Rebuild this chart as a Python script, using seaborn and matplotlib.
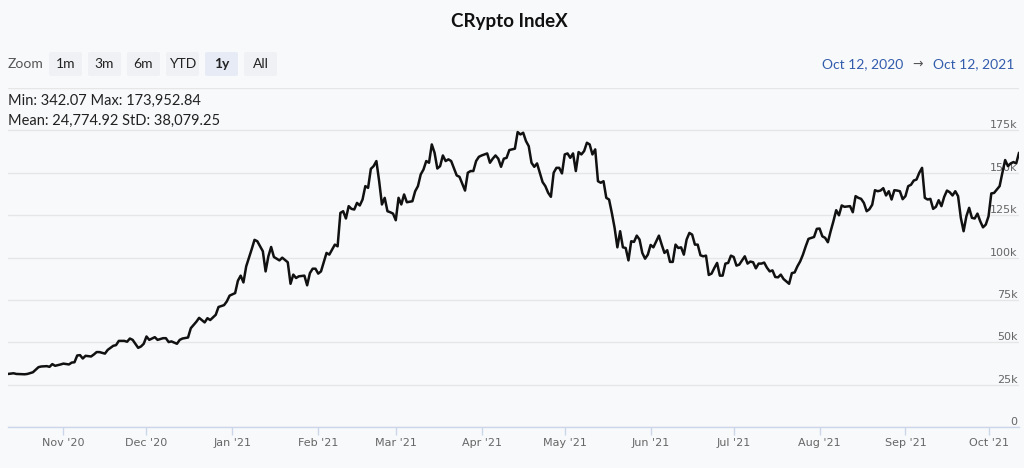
import matplotlib
matplotlib.use("Agg")
import matplotlib.pyplot as plt
import matplotlib.dates as mdates
from matplotlib.patches import FancyBboxPatch
from matplotlib.ticker import FuncFormatter
import numpy as np
import pandas as pd
import seaborn as sns

# ---------------- data ----------------
start_date = "2020-10-12"
end_date = "2021-10-12"
# days since start_date
days = [
    0, 2, 3, 6, 7, 9, 11, 12, 14, 15, 16, 17, 19, 20, 22, 23, 24, 25, 26, 27,
    28, 30, 31, 32, 33, 35, 36, 38, 39, 40, 42, 43, 44, 45, 47, 48, 49, 50, 51, 53,
    54, 56, 57, 58, 59, 61, 62, 63, 65, 66, 68, 69, 71, 72, 73, 75, 76, 78, 79, 80,
    82, 83, 84, 85, 86, 88, 89, 90, 92, 93, 94, 95, 96, 98, 99, 101, 102, 103, 104, 105,
    107, 108, 109, 110, 111, 112, 113, 115, 116, 118, 119, 120, 121, 122, 123, 124, 125, 126, 127, 128,
    129, 130, 131, 132, 133, 134, 135, 136, 137, 138, 139, 140, 141, 142, 143, 144, 146, 147, 148, 149,
    150, 151, 152, 153, 154, 155, 156, 157, 158, 159, 160, 162, 163, 165, 166, 167, 168, 169, 170, 171,
    173, 174, 175, 176, 177, 178, 179, 180, 181, 182, 183, 184, 185, 186, 187, 188, 189, 190, 191, 192,
    193, 194, 195, 196, 197, 198, 199, 200, 201, 202, 203, 204, 205, 206, 207, 208, 209, 210, 211, 212,
    213, 214, 215, 216, 217, 218, 219, 220, 221, 222, 223, 224, 225, 226, 227, 228, 229, 230, 231, 232,
    233, 235, 236, 237, 238, 239, 240, 241, 242, 243, 244, 245, 246, 247, 248, 249, 250, 251, 252, 253,
    254, 255, 256, 257, 258, 259, 260, 261, 262, 263, 264, 266, 267, 268, 269, 270, 271, 272, 273, 274,
    275, 276, 277, 278, 279, 280, 282, 283, 284, 285, 286, 287, 288, 289, 291, 292, 293, 294, 295, 296,
    297, 298, 299, 300, 301, 302, 304, 305, 306, 307, 308, 309, 310, 311, 312, 313, 314, 315, 316, 317,
    318, 319, 320, 321, 322, 323, 324, 325, 326, 327, 328, 329, 330, 331, 332, 333, 334, 335, 336, 337,
    338, 339, 340, 341, 342, 343, 344, 345, 346, 347, 348, 349, 350, 351, 352, 353, 354, 355, 356, 357,
    358, 359, 360, 361, 362, 363, 364, 365,
]
# index value in thousands
value_k = [
    31.3, 31.7, 31.3, 31.1, 31.3, 32.3, 35.3, 35.7, 35.9, 35.5, 37.1, 36.1, 36.9, 37.4, 36.9, 38.0, 38.2, 42.2, 42.4, 40.4,
    42.0, 41.6, 42.8, 44.2, 44.2, 43.3, 45.5, 47.9, 48.3, 50.8, 50.8, 50.3, 52.2, 51.4, 46.7, 47.5, 49.1, 53.4, 51.4, 53.0,
    51.4, 52.4, 52.4, 50.1, 50.5, 49.1, 51.4, 52.2, 52.8, 58.3, 62.1, 64.4, 61.7, 64.2, 63.1, 66.2, 70.8, 71.9, 74.1, 77.5,
    79.0, 86.3, 89.3, 85.3, 94.8, 105.0, 110.4, 109.6, 103.7, 91.8, 100.7, 106.2, 100.3, 98.3, 99.9, 97.2, 84.5, 89.9, 87.9, 88.9,
    89.3, 83.6, 90.8, 93.4, 93.4, 90.5, 91.8, 102.7, 101.7, 107.6, 106.6, 126.3, 127.3, 123.0, 130.3, 128.7, 128.3, 132.2, 130.7, 134.2,
    142.1, 141.1, 152.3, 153.9, 156.9, 145.0, 131.3, 135.2, 127.3, 126.7, 125.9, 122.0, 135.2, 131.3, 137.2, 132.6, 133.2, 139.1, 142.1, 149.0,
    151.9, 156.9, 155.9, 166.7, 161.8, 152.5, 153.9, 160.2, 156.9, 157.9, 156.9, 148.4, 147.6, 139.5, 150.0, 151.0, 151.0, 156.9, 159.4, 160.2,
    161.4, 155.9, 158.3, 160.2, 158.3, 153.5, 158.3, 158.8, 163.4, 163.8, 164.2, 174.0, 172.6, 173.6, 168.7, 165.7, 155.9, 153.5, 155.5, 150.0,
    144.5, 142.1, 138.2, 135.8, 150.0, 152.9, 152.9, 149.6, 160.8, 161.4, 158.8, 161.4, 151.0, 162.2, 160.8, 162.8, 167.7, 166.7, 160.8, 163.8,
    145.0, 144.1, 145.0, 135.2, 134.2, 126.3, 117.5, 106.0, 115.5, 106.0, 105.6, 98.3, 109.6, 109.2, 112.9, 110.6, 102.7, 99.3, 101.7, 107.4,
    106.0, 112.9, 107.6, 102.7, 104.3, 97.4, 97.4, 107.6, 105.6, 106.0, 101.7, 110.6, 114.5, 113.5, 107.6, 107.6, 101.3, 100.7, 101.1, 89.7,
    90.5, 93.8, 96.8, 89.3, 89.3, 96.4, 96.8, 101.1, 100.3, 95.2, 95.8, 100.7, 96.4, 97.6, 97.2, 93.6, 96.4, 96.4, 97.0, 94.0,
    91.8, 92.4, 88.5, 88.3, 89.9, 87.3, 84.5, 90.8, 91.2, 94.8, 97.7, 101.7, 106.6, 111.0, 112.1, 116.9, 117.1, 112.5, 111.6, 109.0,
    115.5, 121.4, 127.9, 124.9, 130.7, 129.9, 130.3, 126.7, 136.2, 135.2, 134.6, 132.2, 127.3, 128.5, 131.1, 139.7, 139.1, 139.5, 140.9, 136.6,
    139.1, 134.2, 139.7, 139.5, 139.1, 134.4, 136.2, 142.1, 142.9, 145.4, 146.0, 150.0, 152.9, 135.2, 134.2, 134.6, 128.7, 129.9, 133.8, 130.3,
    135.8, 139.5, 138.5, 136.6, 139.1, 136.2, 123.4, 115.5, 124.3, 129.3, 123.4, 123.0, 125.9, 121.4, 117.8, 119.4, 124.3, 137.8, 138.1, 140.1,
    142.1, 150.0, 157.5, 153.9, 155.5, 156.3, 155.5, 161.8,
]
assert len(days) == len(value_k)

title = "CRypto IndeX"
zoom_buttons = ["1m", "3m", "6m", "YTD", "1y", "All"]
selected_button = "1y"
stats_line1 = "Min: 342.07 Max: 173,952.84"
stats_line2 = "Mean: 24,774.92 StD: 38,079.25"
range_from = "Oct 12, 2020"
range_to = "Oct 12, 2021"
y_ticks = [0, 25000, 50000, 75000, 100000, 125000, 150000, 175000, 200000]

# ---------------- styling ----------------
BG = "#f8f9fb"
sns.set_theme(style="white", rc={
    "figure.facecolor": BG,
    "axes.facecolor": BG,
    "savefig.facecolor": BG,
})
plt.rcParams["font.family"] = ["DejaVu Sans"]
UI_FONT = ["Lato", "DejaVu Sans"]

df = pd.DataFrame({
    "date": pd.to_datetime(start_date) + pd.to_timedelta(days, unit="D"),
    "value": np.array(value_k) * 1000.0,
})

W, H = 1024, 468
fig = plt.figure(figsize=(W / 100, H / 100), dpi=100)

def fx(px):
    return px / W

def fy(py):
    return 1 - py / H

ax = fig.add_axes([fx(8), fy(427), fx(1019) - fx(8), fy(88) - fy(427)])
sns.lineplot(data=df, x="date", y="value", ax=ax, color="#111111", linewidth=1.8, zorder=3)

ax.set_xlim(pd.to_datetime(start_date), pd.to_datetime(end_date))
ax.set_ylim(0, 200000)
ax.set_xlabel("")
ax.set_ylabel("")

# y axis: gridlines + labels inside on the right, above the lines
ax.set_yticks(y_ticks)
ax.yaxis.set_major_formatter(FuncFormatter(
    lambda v, p: "" if v >= 200000 else ("0" if v == 0 else f"{int(v/1000)}k")))
ax.yaxis.tick_right()
ax.tick_params(axis="y", length=0, pad=-1, labelsize=8, labelcolor="#666666")
for lbl in ax.get_yticklabels():
    lbl.set_horizontalalignment("right")
    lbl.set_verticalalignment("bottom")
ax.grid(axis="y", color="#e6e6e6", linewidth=1)
ax.grid(axis="x", visible=False)

# x axis: month ticks
ax.xaxis.set_major_locator(mdates.MonthLocator(bymonthday=1))
ax.xaxis.set_major_formatter(mdates.DateFormatter("%b '%y"))
ax.tick_params(axis="x", bottom=True, length=6, width=1, color="#ccd6eb",
               pad=2, labelsize=8, labelcolor="#666666")

for s in ["top", "left", "right"]:
    ax.spines[s].set_visible(False)
ax.spines["bottom"].set_color("#ccd6eb")
ax.spines["bottom"].set_linewidth(1)

# ---------------- header ----------------
fig.text(fx(509), fy(22), title, ha="center", va="center", fontsize=13.5,
         fontweight="bold", color="#111111", family=UI_FONT)

fig.text(fx(8), fy(64), "Zoom", ha="left", va="center", fontsize=10,
         color="#555555", family=UI_FONT)
btn_x0, btn_w, btn_gap = 49, 33, 6
for i, b in enumerate(zoom_buttons):
    x0 = btn_x0 + i * (btn_w + btn_gap)
    sel = b == selected_button
    rect = FancyBboxPatch((fx(x0), fy(76)), fx(btn_w), fy(52) - fy(76),
                          boxstyle="round,pad=0,rounding_size=0.003",
                          transform=fig.transFigure, linewidth=0,
                          facecolor="#e6ebf5" if sel else "#f0f1f4")
    fig.patches.append(rect)
    fig.text(fx(x0 + btn_w / 2), fy(64), b, ha="center", va="center", fontsize=10,
             color="#222222", fontweight="bold" if sel else "normal", family=UI_FONT)

fig.text(fx(8), fy(101), stats_line1, ha="left", va="center", fontsize=10.5,
         color="#222222", family=UI_FONT)
fig.text(fx(8), fy(121), stats_line2, ha="left", va="center", fontsize=10.5,
         color="#222222", family=UI_FONT)

fig.text(fx(822), fy(64), range_from, ha="left", va="center", fontsize=10,
         color="#335cad", family=UI_FONT)
fig.text(fx(918), fy(64), "\u2192", ha="center", va="center", fontsize=9,
         color="#555555", family=["DejaVu Sans"])
fig.text(fx(1014), fy(64), range_to, ha="right", va="center", fontsize=10,
         color="#335cad", family=UI_FONT)

fig.savefig("out.png", dpi=100, facecolor=BG)
